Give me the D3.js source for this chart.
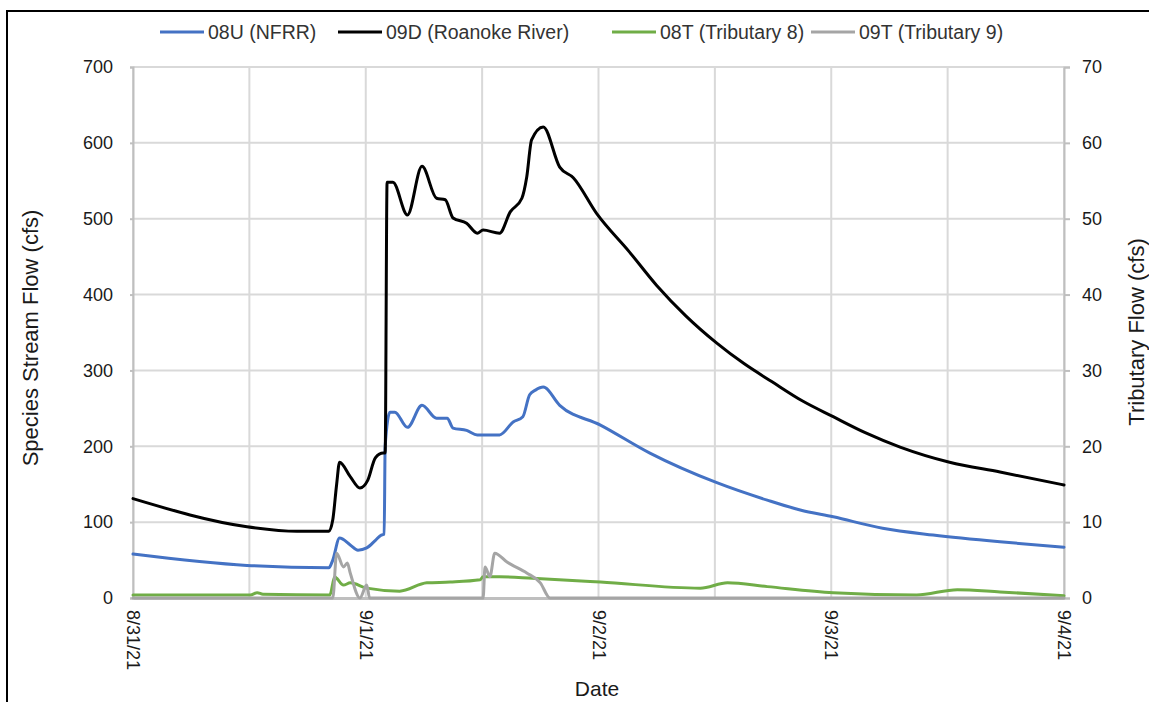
<!DOCTYPE html>
<html><head><meta charset="utf-8">
<script src="https://cdn.jsdelivr.net/npm/d3@7"></script>
<style>body{margin:0;background:#fff;}svg{display:block;font-family:"Liberation Sans",Arial,sans-serif;}</style>
</head><body><svg id="c" width="1149" height="702"></svg>
<script>
// hours since 8/31/21 00:00
const dateLabels = ["8/31/21","9/1/21","9/2/21","9/3/21","9/4/21"];
const leftTicks = [0,100,200,300,400,500,600,700];
const rightTicks = [0,10,20,30,40,50,60,70];
const seriesNames = ["08U (NFRR)","09D (Roanoke River)","08T (Tributary 8)","09T (Tributary 9)"];

const u08Hours = [0,11.75,20.2,20.6,21.3,22.4,23.2,24.1,25.0,25.6,25.9,26.0,26.5,27.0,28.3,29.8,31.3,32.4,33.0,34.4,35.5,37.8,39.2,40.2,40.9,41.5,42.3,44.0,48.2,53.3,60.2,65.4,68.8,72.2,77.3,82.5,89.4,96];
const u08Vals  = [58,43,40,50,79,70,63,66,76,83,84,200,245,245,225,254,237,237,224,221,215,215,232,239,268,274,278,254,228,191,152,129,116,107,92,83,74,67];

const d09Hours = [0,11.75,16.9,20.2,20.6,21.0,21.3,22.4,23.4,24.2,25.0,25.8,26.0,26.2,26.8,28.3,29.8,31.3,32.2,33.0,34.4,35.5,36.1,37.8,38.9,40.1,40.6,41.1,42.3,44.0,45.4,47.8,51.2,54.0,57.0,60.2,63.0,65.9,69.0,72.2,75.5,79.1,84.2,89.4,96];
const d09Vals  = [131,94,88,88,103,150,179,160,145,155,185,191,191,548,548,505,569,527,525,501,494,481,485,481,509,527,555,604,621,568,554,507,456,412,372,336,309,285,260,239,218,199,179,166,149];

const t08Hours = [0,12.1,12.8,13.4,20.3,20.8,21.0,21.7,22.4,24.1,27.5,30.3,32.7,35.8,36.1,37.8,41.2,48.2,58.5,61.3,65.4,72.2,80.8,85.0,89.4,96];
const t08Vals  = [0.4,0.4,0.7,0.5,0.4,2.8,2.6,1.7,2.0,1.3,0.9,2.0,2.1,2.4,2.8,2.8,2.6,2.1,1.3,2.0,1.5,0.7,0.4,1.1,0.8,0.3];

const t09Hours = [0,20.6,21.0,21.7,22.1,22.4,23.4,24.1,24.4,36.1,36.3,36.8,37.3,38.6,40.6,42.0,43.0,96];
const t09Vals  = [0,0,5.9,4.1,4.6,3.3,0,1.7,0,0,4.1,2.8,5.9,4.7,3.3,2.0,0,0];

const colors = ["#4472C4","#000000","#70AD47","#A5A5A5"];

const svg = d3.select("#c");
const L = 133, R = 1064, T = 67, B = 598;
const x = d3.scaleLinear().domain([0,96]).range([L,R]);
const yL = d3.scaleLinear().domain([0,700]).range([B,T]);
const yR = d3.scaleLinear().domain([0,70]).range([B,T]);

// outer frame
svg.append("line").attr("x1",7).attr("x2",1149).attr("y1",11).attr("y2",11).attr("stroke","#000").attr("stroke-width",2);
svg.append("line").attr("x1",7).attr("x2",7).attr("y1",10).attr("y2",702).attr("stroke","#000").attr("stroke-width",2);

// grid
const g = svg.append("g");
d3.range(0,97,12).forEach(h=>{
  g.append("line").attr("x1",x(h)).attr("x2",x(h)).attr("y1",T).attr("y2",B).attr("stroke","#d9d9d9").attr("stroke-width",2);
});
leftTicks.forEach(v=>{
  g.append("line").attr("x1",L).attr("x2",R).attr("y1",yL(v)).attr("y2",yL(v)).attr("stroke","#d9d9d9").attr("stroke-width",2);
});

// axes
const axL = svg.append("g").attr("transform",`translate(${L},0)`).call(d3.axisLeft(yL).tickValues(leftTicks).tickSize(3).tickPadding(17));
const axR = svg.append("g").attr("transform",`translate(${R},0)`).call(d3.axisRight(yR).tickValues(rightTicks).tickSize(6).tickPadding(12));
const axB = svg.append("g").attr("transform",`translate(0,${B})`).call(d3.axisBottom(x).tickValues([0,24,48,72,96]).tickFormat((d,i)=>dateLabels[i]).tickSize(0).tickPadding(0));
[axL,axR,axB].forEach(a=>{
  a.selectAll("path").attr("stroke","#bfbfbf").attr("stroke-width",2);
  a.selectAll("line").attr("stroke","#bfbfbf").attr("stroke-width",2);
  a.selectAll("text").attr("fill","#1a1a1a").style("font-size","18px").style("font-family","'Liberation Sans',Arial,sans-serif");
});
axB.select("path").attr("stroke","#bfbfbf").attr("stroke-width",3);
axB.selectAll("text").attr("transform","rotate(90)").attr("text-anchor","start").attr("dy","0.35em").attr("x",12).attr("y",0);

// lines
function draw(hours, vals, ys, col){
  const pts = hours.map((h,i)=>[h,vals[i]]);
  svg.append("path").datum(pts)
    .attr("d",d3.line().curve(d3.curveMonotoneX).x(d=>x(d[0])).y(d=>ys(d[1])))
    .attr("fill","none").attr("stroke",col).attr("stroke-width",3).attr("stroke-linejoin","round").attr("stroke-linecap","round");
}
draw(u08Hours,u08Vals,yL,colors[0]);
draw(d09Hours,d09Vals,yL,colors[1]);
draw(t08Hours,t08Vals,yR,colors[2]);
draw(t09Hours,t09Vals,yR,colors[3]);

// axis titles
svg.append("text").attr("transform","translate(38,338) rotate(-90)").attr("text-anchor","middle").style("font-size","22px").attr("fill","#1a1a1a").text("Species Stream Flow (cfs)");
svg.append("text").attr("transform","translate(1144,332) rotate(-90)").attr("text-anchor","middle").style("font-size","22px").attr("fill","#1a1a1a").text("Tributary Flow (cfs)");
svg.append("text").attr("x",597).attr("y",696).attr("text-anchor","middle").style("font-size","21px").attr("fill","#1a1a1a").text("Date");

// legend
const legX = [160,338,612,811];
const lg = svg.append("g");
seriesNames.forEach((n,i)=>{
  lg.append("line").attr("x1",legX[i]).attr("x2",legX[i]+44).attr("y1",32).attr("y2",32).attr("stroke",colors[i]).attr("stroke-width",3);
  lg.append("text").attr("x",legX[i]+48).attr("y",39).style("font-size","19.5px").attr("fill","#333").text(n);
});
</script></body></html>
